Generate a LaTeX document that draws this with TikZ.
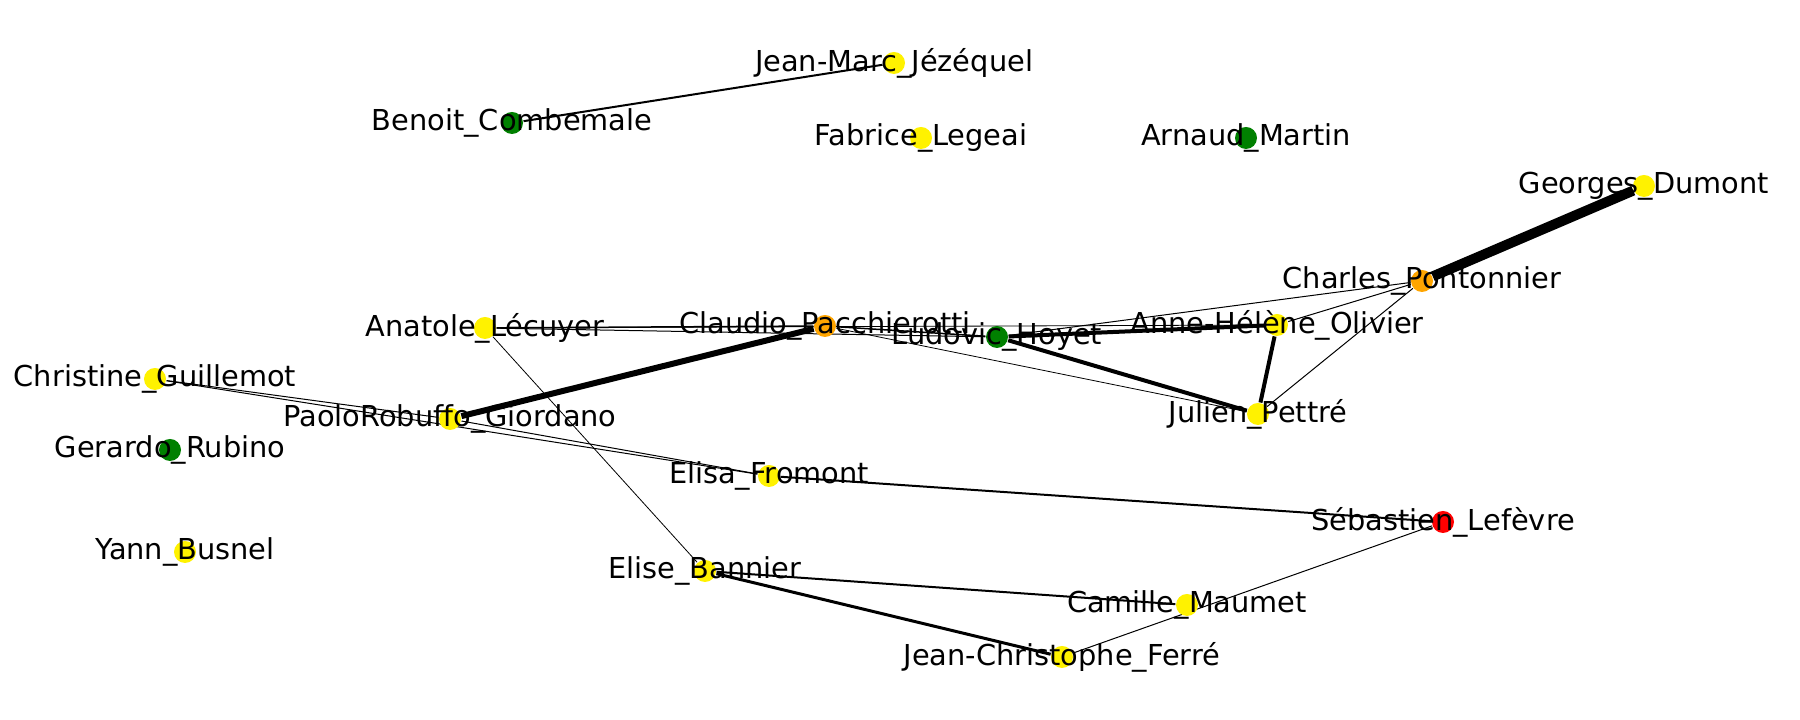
\documentclass[tikz,border=0pt]{standalone}
\usepackage{fontspec}
\setmainfont{DejaVu Sans}
\usetikzlibrary{backgrounds}
\definecolor{mplorange}{RGB}{255,165,0}
\definecolor{mplgreen}{RGB}{0,128,0}
\tikzset{
  font=\fontsize{8.2}{10}\selectfont,
  % Author node
  author/.style={shape=circle, minimum size=0.22cm, inner sep=0pt},
  % Colours of the author groups
  ynode/.style={author, fill=yellow},
  gnode/.style={author, fill=mplgreen},
  onode/.style={author, fill=mplorange},
  rnode/.style={author, fill=red},
  % Co-authorship link, #1 = weight
  link/.style={line width=#1*0.2845pt},
}
\begin{document}
\begin{tikzpicture}
  \useasboundingbox (0,0) rectangle (18,7.2);

  \node[ynode, label=center:Jean-Marc\_Jézéquel] (jmj) at (8.94,6.57) {};
  \node[gnode, label=center:Benoit\_Combemale] (bc) at (5.12,5.97) {};
  \node[ynode, label=center:Fabrice\_Legeai] (fl) at (9.21,5.82) {};
  \node[gnode, label=center:Arnaud\_Martin] (am) at (12.46,5.82) {};
  \node[ynode, label=center:Georges\_Dumont] (gd) at (16.44,5.34) {};
  \node[onode, label=center:Charles\_Pontonnier] (cpo) at (14.22,4.39) {};
  \node[ynode, label=center:Anatole\_Lécuyer] (al) at (4.85,3.92) {};
  \node[onode, label=center:Claudio\_Pacchierotti] (cpa) at (8.25,3.94) {};
  \node[gnode, label=center:Ludovic\_Hoyet] (lh) at (9.97,3.83) {};
  \node[ynode, label=center:Anne-Hélène\_Olivier] (aho) at (12.77,3.95) {};
  \node[ynode, label=center:Julien\_Pettré] (jp) at (12.58,3.06) {};
  \node[ynode, label=center:Christine\_Guillemot] (cg) at (1.55,3.41) {};
  \node[ynode, label=center:PaoloRobuffo\_Giordano] (prg) at (4.50,3.01) {};
  \node[gnode, label=center:Gerardo\_Rubino] (gr) at (1.70,2.70) {};
  \node[ynode, label=center:Elisa\_Fromont] (ef) at (7.69,2.44) {};
  \node[rnode, label=center:Sébastien\_Lefèvre] (sl) at (14.43,1.98) {};
  \node[ynode, label=center:Yann\_Busnel] (yb) at (1.85,1.68) {};
  \node[ynode, label=center:Elise\_Bannier] (eb) at (7.05,1.49) {};
  \node[ynode, label=center:Camille\_Maumet] (cm) at (11.87,1.15) {};
  \node[ynode, label=center:Jean-Christophe\_Ferré] (jcf) at (10.62,0.63) {};

  \begin{scope}[on background layer]
    \draw[link=2] (bc) -- (jmj);
    \draw[link=10] (gd) -- (cpo);
    \draw[link=1] (cpo) -- (aho);
    \draw[link=1] (cpo) -- (jp);
    \draw[link=1] (cpo) -- (lh);
    \draw[link=4] (lh) -- (aho);
    \draw[link=4] (lh) -- (jp);
    \draw[link=4] (aho) -- (jp);
    \draw[link=1.5] (al) -- (cpa);
    \draw[link=1] (al) -- (lh);
    \draw[link=0.8] (al) -- (aho);
    \draw[link=0.8] (al) -- (eb);
    \draw[link=1.5] (cpa) -- (lh);
    \draw[link=0.8] (cpa) -- (jp);
    \draw[link=6] (prg) -- (cpa);
    \draw[link=1] (cg) -- (prg);
    \draw[link=1] (cg) -- (ef);
    \draw[link=1] (prg) -- (ef);
    \draw[link=2] (ef) -- (sl);
    \draw[link=2] (eb) -- (cm);
    \draw[link=3] (eb) -- (jcf);
    \draw[link=1] (jcf) -- (sl);
  \end{scope}
\end{tikzpicture}
\end{document}
